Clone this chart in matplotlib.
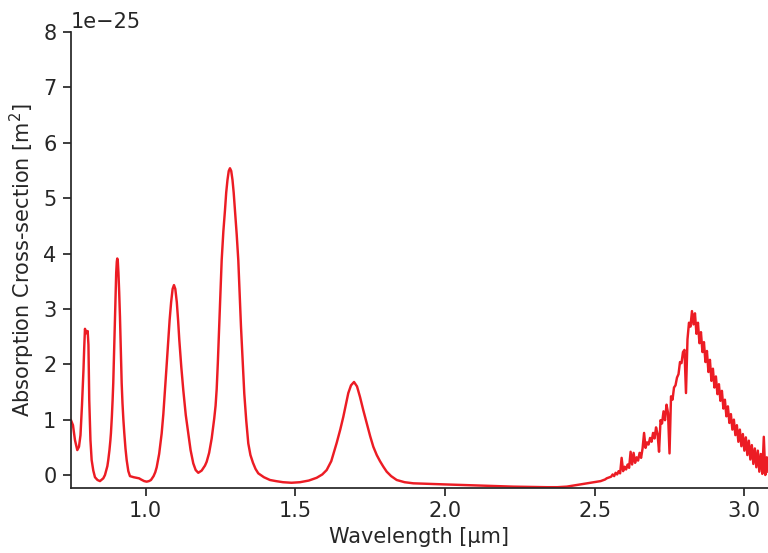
import matplotlib
matplotlib.use("Agg")
import matplotlib.pyplot as plt
import numpy as np

# wavelength [um] and absorption cross-section [1e-25 m^2]
wl_smooth = [
    0.7504, 0.7571, 0.7638, 0.7715, 0.7772, 0.7822, 0.7872, 0.7922, 0.7947, 0.7972,
    0.8015, 0.8062, 0.8088, 0.8115, 0.8155, 0.8195, 0.8250, 0.8306, 0.8390, 0.8473,
    0.8584, 0.8640, 0.8680, 0.8720, 0.8750, 0.8790, 0.8820, 0.8840, 0.8870, 0.8895,
    0.8917, 0.8945, 0.8974, 0.8995, 0.9015, 0.9035, 0.9051, 0.9070, 0.9090, 0.9115,
    0.9141, 0.9170, 0.9198, 0.9225, 0.9255, 0.9285, 0.9325, 0.9365, 0.9420, 0.9475,
    0.9600, 0.9700, 0.9780, 0.9843, 0.9950, 1.0033, 1.0110, 1.0177, 1.0264, 1.0320,
    1.0368, 1.0450, 1.0534, 1.0590, 1.0645, 1.0700, 1.0755, 1.0800, 1.0850, 1.0900,
    1.0945, 1.0990, 1.1040, 1.1085, 1.1123, 1.1190, 1.1257, 1.1340, 1.1424, 1.1500,
    1.1590, 1.1670, 1.1757, 1.1870, 1.1981, 1.2038, 1.2120, 1.2205, 1.2290, 1.2335,
    1.2372, 1.2410, 1.2449, 1.2495, 1.2539, 1.2595, 1.2649, 1.2690, 1.2733, 1.2775,
    1.2816, 1.2858, 1.2900, 1.2940, 1.2983, 1.3040, 1.3094, 1.3140, 1.3184, 1.3240,
    1.3294, 1.3360, 1.3428, 1.3500, 1.3585, 1.3670, 1.3762, 1.3950, 1.4152, 1.4350,
    1.4587, 1.4870, 1.5155, 1.5450, 1.5713, 1.5900, 1.6047, 1.6200, 1.6381, 1.6500,
    1.6602, 1.6690, 1.6769, 1.6860, 1.6960, 1.7060, 1.7160, 1.7270, 1.7384, 1.7500,
    1.7605, 1.7720, 1.7828, 1.7940, 1.8052, 1.8200, 1.8386, 1.8650, 1.8941, 1.9450,
    2.0000, 2.0600, 2.1170, 2.1700, 2.2282, 2.2850, 2.3398, 2.3750, 2.4066, 2.4400,
    2.4734, 2.4960,
]
xs_smooth = [
    0.99, 0.90, 0.63, 0.45, 0.51, 0.72, 1.26, 1.90, 2.30, 2.64,
    2.56, 2.60, 2.35, 1.35, 0.63, 0.27, 0.08, -0.04, -0.09, -0.11,
    -0.06, 0.00, 0.08, 0.16, 0.27, 0.45, 0.62, 0.76, 1.05, 1.35,
    1.66, 2.25, 2.86, 3.30, 3.65, 3.85, 3.91, 3.85, 3.65, 3.30,
    2.86, 2.25, 1.66, 1.30, 1.00, 0.76, 0.48, 0.27, 0.07, -0.02,
    -0.04, -0.05, -0.06, -0.08, -0.11, -0.12, -0.11, -0.09, -0.02, 0.05,
    0.14, 0.38, 0.75, 1.10, 1.53, 1.98, 2.44, 2.80, 3.12, 3.36,
    3.43, 3.36, 3.12, 2.78, 2.44, 1.95, 1.53, 1.08, 0.75, 0.45,
    0.21, 0.09, 0.04, 0.08, 0.17, 0.24, 0.40, 0.66, 1.02, 1.25,
    1.55, 2.02, 2.60, 3.25, 3.88, 4.40, 4.78, 5.10, 5.33, 5.49,
    5.54, 5.49, 5.33, 5.10, 4.78, 4.35, 3.88, 3.28, 2.68, 2.05,
    1.47, 0.98, 0.57, 0.36, 0.22, 0.11, 0.03, -0.04, -0.09, -0.11,
    -0.13, -0.14, -0.13, -0.10, -0.05, 0.01, 0.09, 0.25, 0.58, 0.82,
    1.05, 1.28, 1.48, 1.62, 1.68, 1.60, 1.41, 1.17, 0.94, 0.70,
    0.51, 0.36, 0.25, 0.15, 0.06, -0.02, -0.09, -0.13, -0.15, -0.16,
    -0.17, -0.18, -0.19, -0.20, -0.21, -0.215, -0.22, -0.22, -0.21, -0.18,
    -0.15, -0.13,
]

# noisy band around the 2.8 um feature
wl_band = [
    2.520, 2.525, 2.530, 2.535, 2.540, 2.545, 2.550, 2.555, 2.560, 2.565,
    2.570, 2.575, 2.580, 2.585, 2.590, 2.595, 2.600, 2.605, 2.610, 2.615,
    2.620, 2.625, 2.630, 2.635, 2.640, 2.645, 2.650, 2.655, 2.660, 2.665,
    2.670, 2.675, 2.680, 2.685, 2.690, 2.695, 2.700, 2.705, 2.710, 2.715,
    2.720, 2.725, 2.730, 2.735, 2.740, 2.745, 2.750, 2.755, 2.760, 2.765,
    2.770, 2.775, 2.780, 2.785, 2.790, 2.795, 2.800, 2.805, 2.810, 2.815,
    2.820, 2.825, 2.830, 2.835, 2.840, 2.845, 2.850, 2.855, 2.860, 2.865,
    2.870, 2.875, 2.880, 2.885, 2.890, 2.895, 2.900, 2.905, 2.910, 2.915,
    2.920, 2.925, 2.930, 2.935, 2.940, 2.945, 2.950, 2.955, 2.960, 2.965,
    2.970, 2.975, 2.980, 2.985, 2.990, 2.995, 3.000, 3.005, 3.010, 3.015,
    3.020, 3.025, 3.030, 3.035, 3.040, 3.045, 3.050, 3.055, 3.060, 3.065,
    3.070, 3.075, 3.080,
]
xs_band = [
    -0.11, -0.10, -0.09, -0.08, -0.06, -0.05, -0.04, -0.03, 0.01, -0.02,
    0.04, 0.01, 0.07, 0.03, 0.31, 0.07, 0.15, 0.10, 0.19, 0.13,
    0.42, 0.19, 0.40, 0.22, 0.32, 0.26, 0.40, 0.31, 0.48, 0.76,
    0.49, 0.59, 0.55, 0.67, 0.60, 0.76, 0.66, 0.86, 0.74, 0.42,
    0.99, 0.93, 1.15, 0.99, 1.27, 1.12, 0.39, 1.42, 1.36, 1.58,
    1.62, 1.76, 1.82, 2.04, 2.02, 2.22, 2.26, 1.48, 2.45, 2.75,
    2.68, 2.96, 2.72, 2.92, 2.55, 2.75, 2.38, 2.58, 2.22, 2.40,
    2.04, 2.24, 1.86, 2.08, 1.70, 1.92, 1.58, 1.78, 1.46, 1.64,
    1.34, 1.52, 1.20, 1.36, 1.06, 1.24, 0.94, 1.10, 0.82, 1.00,
    0.72, 0.90, 0.60, 0.82, 0.52, 0.74, 0.44, 0.68, 0.36, 0.62,
    0.28, 0.54, 0.20, 0.48, 0.14, 0.44, 0.06, 0.38, 0.02, 0.69,
    0.00, 0.32, 0.06,
]

wavelength = np.array(wl_smooth + wl_band)
cross_section = np.array(xs_smooth + xs_band) * 1e-25

plt.rcParams.update({
    "font.family": "DejaVu Sans",
    "font.size": 15,
    "text.color": ".15",
    "axes.labelcolor": ".15",
    "axes.edgecolor": ".15",
    "xtick.color": ".15",
    "ytick.color": ".15",
    "axes.linewidth": 1.25,
    "xtick.major.width": 1.25,
    "ytick.major.width": 1.25,
    "xtick.major.size": 5.5,
    "ytick.major.size": 5.5,
    "ytick.major.pad": 5,
    "xtick.major.pad": 4,
})

fig = plt.figure(figsize=(7.68, 5.53), dpi=100)
ax = fig.add_axes([0.0924, 0.1175, 1 - 0.0924, 0.9421 - 0.1175])

ax.plot(wavelength, cross_section, color="#ec1c24", lw=1.75)

ax.set_xlim(0.7504, 3.079)
ax.set_ylim(-0.235e-25, 8e-25)
ax.set_xticks([1.0, 1.5, 2.0, 2.5, 3.0])
ax.set_xlabel("Wavelength [\u00b5m]")
ax.set_ylabel("Absorption Cross-section [m$^2$]")
ax.spines["top"].set_visible(False)
ax.spines["right"].set_visible(False)

fig.savefig("out.png", dpi=100)
